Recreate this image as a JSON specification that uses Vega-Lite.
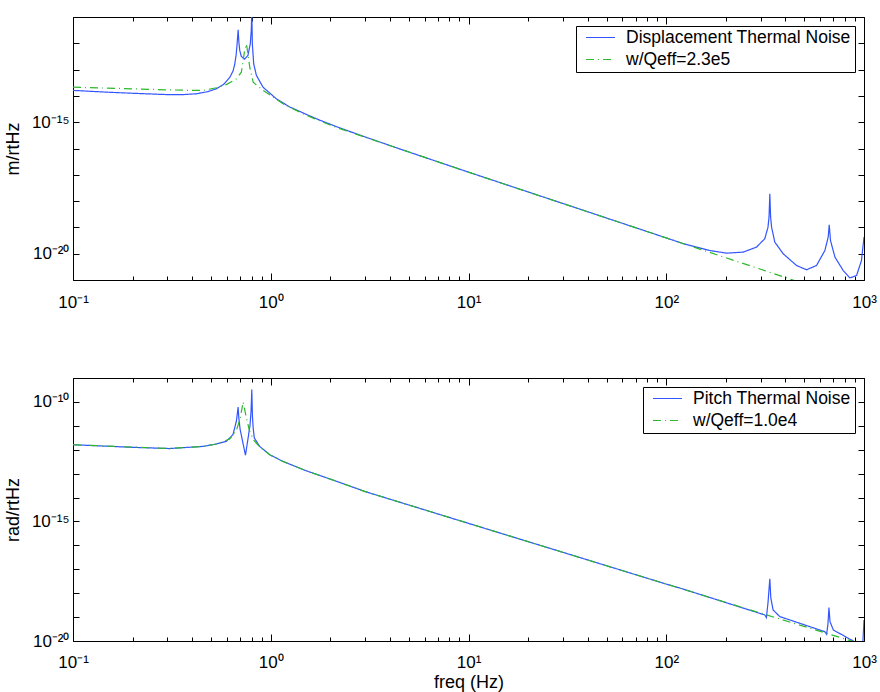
{
  "$schema": "https://vega.github.io/schema/vega-lite/v6.json",
  "padding": {"left": 3, "top": 7, "right": 10, "bottom": 0},
  "spacing": 98,
  "bounds": "flush",
  "config": {
    "font": "Liberation Sans",
    "view": {"stroke": "black", "strokeWidth": 1},
    "axis": {
      "grid": false, "domain": false, "labelFont": "Liberation Sans", "labelFontSize": 17,
      "labelColor": "black", "tickColor": "black", "titleFont": "Liberation Sans", "titleFontSize": 18,
      "titleFontWeight": "normal", "titleColor": "black", "labelOverlap": false, "labelFlush": false
    },
    "legend": {
      "orient": "top-right", "offset": 9, "strokeColor": "black", "fillColor": "white", "padding": 4,
      "labelFont": "Liberation Sans", "labelFontSize": 17.5, "labelColor": "black", "labelOffset": 10,
      "labelLimit": 0, "symbolType": "stroke", "symbolSize": 841, "symbolStrokeWidth": 1.2,
      "symbolOffset": 5, "clipHeight": 15, "rowPadding": 4
    }
  },
  "datasets": {
    "disp": [
      {"f": 0.1, "v": 1.62e-14, "series": "Displacement Thermal Noise"},
      {"f": 0.15, "v": 1.38e-14, "series": "Displacement Thermal Noise"},
      {"f": 0.2, "v": 1.26e-14, "series": "Displacement Thermal Noise"},
      {"f": 0.3, "v": 1.12e-14, "series": "Displacement Thermal Noise"},
      {"f": 0.36, "v": 1.12e-14, "series": "Displacement Thermal Noise"},
      {"f": 0.42, "v": 1.2e-14, "series": "Displacement Thermal Noise"},
      {"f": 0.48, "v": 1.45e-14, "series": "Displacement Thermal Noise"},
      {"f": 0.531, "v": 1.86e-14, "series": "Displacement Thermal Noise"},
      {"f": 0.58, "v": 2.82e-14, "series": "Displacement Thermal Noise"},
      {"f": 0.621, "v": 5.13e-14, "series": "Displacement Thermal Noise"},
      {"f": 0.645, "v": 8.9e-14, "series": "Displacement Thermal Noise"},
      {"f": 0.658, "v": 1.66e-13, "series": "Displacement Thermal Noise"},
      {"f": 0.668, "v": 3.55e-13, "series": "Displacement Thermal Noise"},
      {"f": 0.676, "v": 9.55e-13, "series": "Displacement Thermal Noise"},
      {"f": 0.684, "v": 3.24e-12, "series": "Displacement Thermal Noise"},
      {"f": 0.69, "v": 1.12e-12, "series": "Displacement Thermal Noise"},
      {"f": 0.697, "v": 5.37e-13, "series": "Displacement Thermal Noise"},
      {"f": 0.71, "v": 3.16e-13, "series": "Displacement Thermal Noise"},
      {"f": 0.738, "v": 2.51e-13, "series": "Displacement Thermal Noise"},
      {"f": 0.767, "v": 3.47e-13, "series": "Displacement Thermal Noise"},
      {"f": 0.788, "v": 9.55e-13, "series": "Displacement Thermal Noise"},
      {"f": 0.797, "v": 3.16e-12, "series": "Displacement Thermal Noise"},
      {"f": 0.802, "v": 1.58e-11, "series": "Displacement Thermal Noise"},
      {"f": 0.807, "v": 9.55e-13, "series": "Displacement Thermal Noise"},
      {"f": 0.82, "v": 1.66e-13, "series": "Displacement Thermal Noise"},
      {"f": 0.846, "v": 6.03e-14, "series": "Displacement Thermal Noise"},
      {"f": 0.914, "v": 2.14e-14, "series": "Displacement Thermal Noise"},
      {"f": 1.067, "v": 7.76e-15, "series": "Displacement Thermal Noise"},
      {"f": 1.247, "v": 3.8e-15, "series": "Displacement Thermal Noise"},
      {"f": 1.574, "v": 1.74e-15, "series": "Displacement Thermal Noise"},
      {"f": 1.769, "v": 1.2e-15, "series": "Displacement Thermal Noise"},
      {"f": 2.15, "v": 6.76e-16, "series": "Displacement Thermal Noise"},
      {"f": 3, "v": 2.75e-16, "series": "Displacement Thermal Noise"},
      {"f": 4.67, "v": 8.71e-17, "series": "Displacement Thermal Noise"},
      {"f": 10, "v": 1.26e-17, "series": "Displacement Thermal Noise"},
      {"f": 30, "v": 8.13e-19, "series": "Displacement Thermal Noise"},
      {"f": 100, "v": 3.98e-20, "series": "Displacement Thermal Noise"},
      {"f": 122, "v": 2.4e-20, "series": "Displacement Thermal Noise"},
      {"f": 166, "v": 1.32e-20, "series": "Displacement Thermal Noise"},
      {"f": 202, "v": 1.05e-20, "series": "Displacement Thermal Noise"},
      {"f": 245, "v": 1.15e-20, "series": "Displacement Thermal Noise"},
      {"f": 286, "v": 1.78e-20, "series": "Displacement Thermal Noise"},
      {"f": 315, "v": 3.72e-20, "series": "Displacement Thermal Noise"},
      {"f": 327, "v": 1.02e-19, "series": "Displacement Thermal Noise"},
      {"f": 331, "v": 2.5e-19, "series": "Displacement Thermal Noise"},
      {"f": 334, "v": 1.91e-18, "series": "Displacement Thermal Noise"},
      {"f": 337, "v": 2.5e-19, "series": "Displacement Thermal Noise"},
      {"f": 341, "v": 1.02e-19, "series": "Displacement Thermal Noise"},
      {"f": 354, "v": 2.75e-20, "series": "Displacement Thermal Noise"},
      {"f": 390, "v": 1.0e-20, "series": "Displacement Thermal Noise"},
      {"f": 456, "v": 3.55e-21, "series": "Displacement Thermal Noise"},
      {"f": 512, "v": 2.45e-21, "series": "Displacement Thermal Noise"},
      {"f": 575, "v": 3.55e-21, "series": "Displacement Thermal Noise"},
      {"f": 634, "v": 1.32e-20, "series": "Displacement Thermal Noise"},
      {"f": 659, "v": 4.27e-20, "series": "Displacement Thermal Noise"},
      {"f": 667, "v": 1.26e-19, "series": "Displacement Thermal Noise"},
      {"f": 677, "v": 3.16e-20, "series": "Displacement Thermal Noise"},
      {"f": 713, "v": 7.41e-21, "series": "Displacement Thermal Noise"},
      {"f": 785, "v": 2.29e-21, "series": "Displacement Thermal Noise"},
      {"f": 849, "v": 1.2e-21, "series": "Displacement Thermal Noise"},
      {"f": 917, "v": 1.48e-21, "series": "Displacement Thermal Noise"},
      {"f": 971, "v": 5.5e-21, "series": "Displacement Thermal Noise"},
      {"f": 1000, "v": 4.27e-20, "series": "Displacement Thermal Noise"},
      {"f": 0.1, "v": 2.14e-14, "series": "w/Qeff=2.3e5"},
      {"f": 0.2, "v": 1.86e-14, "series": "w/Qeff=2.3e5"},
      {"f": 0.3, "v": 1.7e-14, "series": "w/Qeff=2.3e5"},
      {"f": 0.4, "v": 1.62e-14, "series": "w/Qeff=2.3e5"},
      {"f": 0.455, "v": 1.62e-14, "series": "w/Qeff=2.3e5"},
      {"f": 0.531, "v": 2.04e-14, "series": "w/Qeff=2.3e5"},
      {"f": 0.596, "v": 2.69e-14, "series": "w/Qeff=2.3e5"},
      {"f": 0.67, "v": 4.47e-14, "series": "w/Qeff=2.3e5"},
      {"f": 0.71, "v": 7.94e-14, "series": "w/Qeff=2.3e5"},
      {"f": 0.725, "v": 2.24e-13, "series": "w/Qeff=2.3e5"},
      {"f": 0.738, "v": 5.37e-13, "series": "w/Qeff=2.3e5"},
      {"f": 0.753, "v": 9.55e-13, "series": "w/Qeff=2.3e5"},
      {"f": 0.767, "v": 3.98e-13, "series": "w/Qeff=2.3e5"},
      {"f": 0.783, "v": 1.23e-13, "series": "w/Qeff=2.3e5"},
      {"f": 0.815, "v": 3.31e-14, "series": "w/Qeff=2.3e5"},
      {"f": 0.914, "v": 1.62e-14, "series": "w/Qeff=2.3e5"},
      {"f": 1.153, "v": 5.01e-15, "series": "w/Qeff=2.3e5"},
      {"f": 1.4, "v": 2.4e-15, "series": "w/Qeff=2.3e5"},
      {"f": 1.7, "v": 1.26e-15, "series": "w/Qeff=2.3e5"},
      {"f": 2.15, "v": 6.31e-16, "series": "w/Qeff=2.3e5"},
      {"f": 3, "v": 2.69e-16, "series": "w/Qeff=2.3e5"},
      {"f": 10, "v": 1.26e-17, "series": "w/Qeff=2.3e5"},
      {"f": 100, "v": 3.98e-20, "series": "w/Qeff=2.3e5"},
      {"f": 1000, "v": 1.26e-22, "series": "w/Qeff=2.3e5"}
    ],
    "pitch": [
      {"f": 0.1, "v": 1.62e-12, "series": "Pitch Thermal Noise"},
      {"f": 0.2, "v": 1.26e-12, "series": "Pitch Thermal Noise"},
      {"f": 0.308, "v": 1.12e-12, "series": "Pitch Thermal Noise"},
      {"f": 0.455, "v": 1.38e-12, "series": "Pitch Thermal Noise"},
      {"f": 0.531, "v": 1.74e-12, "series": "Pitch Thermal Noise"},
      {"f": 0.596, "v": 2.24e-12, "series": "Pitch Thermal Noise"},
      {"f": 0.644, "v": 4.27e-12, "series": "Pitch Thermal Noise"},
      {"f": 0.67, "v": 1.55e-11, "series": "Pitch Thermal Noise"},
      {"f": 0.684, "v": 6.03e-11, "series": "Pitch Thermal Noise"},
      {"f": 0.69, "v": 2.0e-11, "series": "Pitch Thermal Noise"},
      {"f": 0.7, "v": 7.1e-12, "series": "Pitch Thermal Noise"},
      {"f": 0.745, "v": 5.89e-13, "series": "Pitch Thermal Noise"},
      {"f": 0.785, "v": 1.0e-11, "series": "Pitch Thermal Noise"},
      {"f": 0.795, "v": 4.0e-11, "series": "Pitch Thermal Noise"},
      {"f": 0.802, "v": 3.31e-10, "series": "Pitch Thermal Noise"},
      {"f": 0.808, "v": 2.5e-11, "series": "Pitch Thermal Noise"},
      {"f": 0.815, "v": 8.13e-12, "series": "Pitch Thermal Noise"},
      {"f": 0.826, "v": 3.09e-12, "series": "Pitch Thermal Noise"},
      {"f": 0.879, "v": 1.38e-12, "series": "Pitch Thermal Noise"},
      {"f": 0.989, "v": 6.17e-13, "series": "Pitch Thermal Noise"},
      {"f": 1.153, "v": 3.24e-13, "series": "Pitch Thermal Noise"},
      {"f": 1.51, "v": 1.32e-13, "series": "Pitch Thermal Noise"},
      {"f": 2.15, "v": 4.79e-14, "series": "Pitch Thermal Noise"},
      {"f": 3, "v": 1.78e-14, "series": "Pitch Thermal Noise"},
      {"f": 10, "v": 8.32e-16, "series": "Pitch Thermal Noise"},
      {"f": 30, "v": 5.13e-17, "series": "Pitch Thermal Noise"},
      {"f": 100, "v": 2.4e-18, "series": "Pitch Thermal Noise"},
      {"f": 122, "v": 1.48e-18, "series": "Pitch Thermal Noise"},
      {"f": 315, "v": 1.23e-19, "series": "Pitch Thermal Noise"},
      {"f": 321, "v": 9.55e-20, "series": "Pitch Thermal Noise"},
      {"f": 327, "v": 3.98e-19, "series": "Pitch Thermal Noise"},
      {"f": 334, "v": 3.98e-18, "series": "Pitch Thermal Noise"},
      {"f": 338, "v": 6.17e-19, "series": "Pitch Thermal Noise"},
      {"f": 347, "v": 2.0e-19, "series": "Pitch Thermal Noise"},
      {"f": 375, "v": 1.05e-19, "series": "Pitch Thermal Noise"},
      {"f": 634, "v": 2.45e-20, "series": "Pitch Thermal Noise"},
      {"f": 647, "v": 1.91e-20, "series": "Pitch Thermal Noise"},
      {"f": 657, "v": 5.0e-20, "series": "Pitch Thermal Noise"},
      {"f": 665, "v": 2.51e-19, "series": "Pitch Thermal Noise"},
      {"f": 673, "v": 6.46e-20, "series": "Pitch Thermal Noise"},
      {"f": 700, "v": 2.88e-20, "series": "Pitch Thermal Noise"},
      {"f": 883, "v": 1.0e-20, "series": "Pitch Thermal Noise"},
      {"f": 950, "v": 5.0e-21, "series": "Pitch Thermal Noise"},
      {"f": 985, "v": 6.3e-21, "series": "Pitch Thermal Noise"},
      {"f": 1000, "v": 7.59e-20, "series": "Pitch Thermal Noise"},
      {"f": 0.1, "v": 1.62e-12, "series": "w/Qeff=1.0e4"},
      {"f": 0.308, "v": 1.12e-12, "series": "w/Qeff=1.0e4"},
      {"f": 0.455, "v": 1.38e-12, "series": "w/Qeff=1.0e4"},
      {"f": 0.531, "v": 1.74e-12, "series": "w/Qeff=1.0e4"},
      {"f": 0.62, "v": 2.82e-12, "series": "w/Qeff=1.0e4"},
      {"f": 0.67, "v": 6.31e-12, "series": "w/Qeff=1.0e4"},
      {"f": 0.7, "v": 2.0e-11, "series": "w/Qeff=1.0e4"},
      {"f": 0.725, "v": 1.0e-10, "series": "w/Qeff=1.0e4"},
      {"f": 0.75, "v": 2.51e-11, "series": "w/Qeff=1.0e4"},
      {"f": 0.78, "v": 6.31e-12, "series": "w/Qeff=1.0e4"},
      {"f": 0.82, "v": 2.51e-12, "series": "w/Qeff=1.0e4"},
      {"f": 0.879, "v": 1.32e-12, "series": "w/Qeff=1.0e4"},
      {"f": 0.989, "v": 6.17e-13, "series": "w/Qeff=1.0e4"},
      {"f": 1.153, "v": 3.24e-13, "series": "w/Qeff=1.0e4"},
      {"f": 1.51, "v": 1.32e-13, "series": "w/Qeff=1.0e4"},
      {"f": 2.15, "v": 4.79e-14, "series": "w/Qeff=1.0e4"},
      {"f": 3, "v": 1.78e-14, "series": "w/Qeff=1.0e4"},
      {"f": 10, "v": 8.32e-16, "series": "w/Qeff=1.0e4"},
      {"f": 100, "v": 2.4e-18, "series": "w/Qeff=1.0e4"},
      {"f": 1000, "v": 6.92e-21, "series": "w/Qeff=1.0e4"}
    ]
  },
  "vconcat": [
    {
      "width": 791,
      "height": 263,
      "data": {"name": "disp"},
      "encoding": {
        "color": {"field": "series", "type": "nominal", "title": null,
          "scale": {"domain": ["Displacement Thermal Noise", "w/Qeff=2.3e5"], "range": ["#3355ff", "#2db82d"]}},
        "strokeDash": {"field": "series", "type": "nominal", "title": null,
          "scale": {"domain": ["Displacement Thermal Noise", "w/Qeff=2.3e5"], "range": [[1, 0], [8, 4, 1, 4]]}}
      },
      "layer": [
        {
          "transform": [{"filter": "datum.series == 'Displacement Thermal Noise'"}],
          "mark": {"type": "line", "clip": true, "strokeWidth": 1.2},
          "encoding": {
            "x": {"field": "f", "type": "quantitative", "scale": {"type": "log", "domain": [0.1, 1000], "nice": false},
              "axis": {"orient": "bottom", "title": null, "values": [0.1,0.2,0.3,0.4,0.5,0.6,0.7,0.8,0.9,1,2,3,4,5,6,7,8,9,10,20,30,40,50,60,70,80,90,100,200,300,400,500,600,700,800,900,1000],
                "labelExpr": "datum.value == 0.1 ? '10⁻¹' : datum.value == 1 ? '10⁰' : datum.value == 10 ? '10¹' : datum.value == 100 ? '10²' : datum.value == 1000 ? '10³' : ''",
                "tickSize": {"condition": {"test": "datum.value == 0.1 || datum.value == 1 || datum.value == 10 || datum.value == 100 || datum.value == 1000", "value": -7}, "value": -4},
                "labelPadding": 21}},
            "y": {"field": "v", "type": "quantitative", "scale": {"type": "log", "domain": [1e-21, 1e-11], "nice": false},
              "axis": {"orient": "left", "title": "m/rtHz", "titlePadding": 9, "values": [1e-21,1e-20,1e-19,1e-18,1e-17,1e-16,1e-15,1e-14,1e-13,1e-12,1e-11],
                "labelExpr": "datum.value == 1e-15 ? '10⁻¹⁵' : datum.value == 1e-20 ? '10⁻²⁰' : ''",
                "tickSize": -6, "labelPadding": 10}}
          }
        },
        {
          "transform": [{"filter": "datum.series == 'w/Qeff=2.3e5'"}],
          "mark": {"type": "line", "clip": true, "strokeWidth": 1.2},
          "encoding": {
            "x": {"field": "f", "type": "quantitative", "scale": {"type": "log", "domain": [0.1, 1000], "nice": false},
              "axis": {"orient": "top", "title": null, "labels": false, "values": [0.1,0.2,0.3,0.4,0.5,0.6,0.7,0.8,0.9,1,2,3,4,5,6,7,8,9,10,20,30,40,50,60,70,80,90,100,200,300,400,500,600,700,800,900,1000],
                "tickSize": {"condition": {"test": "datum.value == 0.1 || datum.value == 1 || datum.value == 10 || datum.value == 100 || datum.value == 1000", "value": -7}, "value": -4}}},
            "y": {"field": "v", "type": "quantitative", "scale": {"type": "log", "domain": [1e-21, 1e-11], "nice": false},
              "axis": {"orient": "right", "title": null, "labels": false, "values": [1e-21,1e-20,1e-19,1e-18,1e-17,1e-16,1e-15,1e-14,1e-13,1e-12,1e-11], "tickSize": -6}}
          }
        }
      ],
      "resolve": {"axis": {"x": "independent", "y": "independent"}}
    },
    {
      "width": 791,
      "height": 263,
      "data": {"name": "pitch"},
      "encoding": {
        "color": {"field": "series", "type": "nominal", "title": null,
          "scale": {"domain": ["Pitch Thermal Noise", "w/Qeff=1.0e4"], "range": ["#3355ff", "#2db82d"]}},
        "strokeDash": {"field": "series", "type": "nominal", "title": null,
          "scale": {"domain": ["Pitch Thermal Noise", "w/Qeff=1.0e4"], "range": [[1, 0], [8, 4, 1, 4]]}}
      },
      "layer": [
        {
          "transform": [{"filter": "datum.series == 'Pitch Thermal Noise'"}],
          "mark": {"type": "line", "clip": true, "strokeWidth": 1.2},
          "encoding": {
            "x": {"field": "f", "type": "quantitative", "scale": {"type": "log", "domain": [0.1, 1000], "nice": false},
              "axis": {"orient": "bottom", "title": "freq (Hz)", "values": [0.1,0.2,0.3,0.4,0.5,0.6,0.7,0.8,0.9,1,2,3,4,5,6,7,8,9,10,20,30,40,50,60,70,80,90,100,200,300,400,500,600,700,800,900,1000],
                "labelExpr": "datum.value == 0.1 ? '10⁻¹' : datum.value == 1 ? '10⁰' : datum.value == 10 ? '10¹' : datum.value == 100 ? '10²' : datum.value == 1000 ? '10³' : ''",
                "tickSize": {"condition": {"test": "datum.value == 0.1 || datum.value == 1 || datum.value == 10 || datum.value == 100 || datum.value == 1000", "value": -7}, "value": -4},
                "labelPadding": 20, "titlePadding": 0}},
            "y": {"field": "v", "type": "quantitative", "scale": {"type": "log", "domain": [1e-20, 1e-9], "nice": false},
              "axis": {"orient": "left", "title": "rad/rtHz", "titlePadding": 9, "values": [1e-20,1e-19,1e-18,1e-17,1e-16,1e-15,1e-14,1e-13,1e-12,1e-11,1e-10,1e-9],
                "labelExpr": "datum.value == 1e-10 ? '10⁻¹⁰' : datum.value == 1e-15 ? '10⁻¹⁵' : datum.value == 1e-20 ? '10⁻²⁰' : ''",
                "tickSize": -6, "labelPadding": 10}}
          }
        },
        {
          "transform": [{"filter": "datum.series == 'w/Qeff=1.0e4'"}],
          "mark": {"type": "line", "clip": true, "strokeWidth": 1.2},
          "encoding": {
            "x": {"field": "f", "type": "quantitative", "scale": {"type": "log", "domain": [0.1, 1000], "nice": false},
              "axis": {"orient": "top", "title": null, "labels": false, "values": [0.1,0.2,0.3,0.4,0.5,0.6,0.7,0.8,0.9,1,2,3,4,5,6,7,8,9,10,20,30,40,50,60,70,80,90,100,200,300,400,500,600,700,800,900,1000],
                "tickSize": {"condition": {"test": "datum.value == 0.1 || datum.value == 1 || datum.value == 10 || datum.value == 100 || datum.value == 1000", "value": -7}, "value": -4}}},
            "y": {"field": "v", "type": "quantitative", "scale": {"type": "log", "domain": [1e-20, 1e-9], "nice": false},
              "axis": {"orient": "right", "title": null, "labels": false, "values": [1e-20,1e-19,1e-18,1e-17,1e-16,1e-15,1e-14,1e-13,1e-12,1e-11,1e-10,1e-9], "tickSize": -6}}
          }
        }
      ],
      "resolve": {"axis": {"x": "independent", "y": "independent"}}
    }
  ],
  "resolve": {"scale": {"color": "independent", "strokeDash": "independent"}}
}
